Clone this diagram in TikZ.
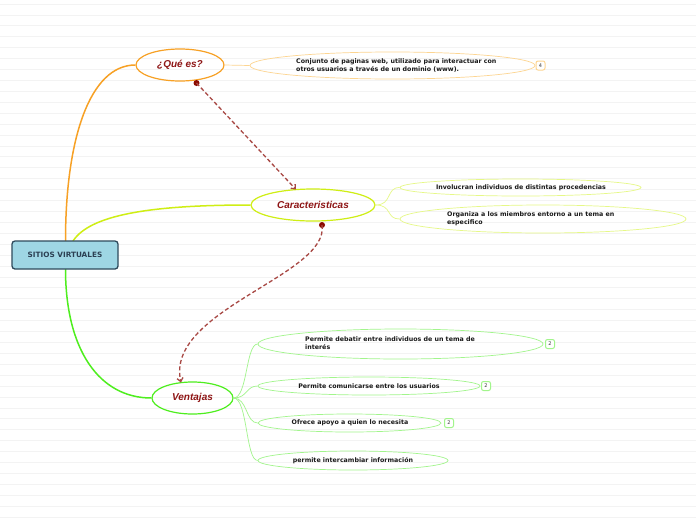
\documentclass[tikz,border=0pt]{standalone}
\usepackage{fontspec}
\setmainfont{DejaVu Sans}
\newfontfamily\leaffont{DejaVu Sans}
\newfontfamily\topicfont{Liberation Sans}
\usetikzlibrary{shapes.geometric,arrows.meta}
\definecolor{orangeM}{HTML}{F7A125}
\definecolor{orangeL}{HTML}{FDD591}
\definecolor{yellowM}{HTML}{CFEE14}
\definecolor{yellowL}{HTML}{E6F887}
\definecolor{greenM}{HTML}{4EEE1E}
\definecolor{greenL}{HTML}{A2F58C}
\definecolor{topictext}{HTML}{8E1515}
\definecolor{rootfill}{HTML}{9ED6E4}
\definecolor{rootdraw}{HTML}{2E4A5C}
\definecolor{roottext}{HTML}{2B3F52}
\definecolor{dashred}{HTML}{A84844}
\definecolor{dotred}{HTML}{8B0A00}
\definecolor{gridline}{HTML}{F3F3F3}
\tikzset{
  topic/.style={ellipse, draw, line width=1.2pt, minimum height=32pt, inner sep=0pt,
    font=\topicfont\bfseries\itshape\fontsize{10}{12}\selectfont, text=topictext},
  rootbox/.style={rounded corners=3pt, draw=rootdraw, fill=rootfill, line width=1.3pt,
    minimum width=106pt, minimum height=28pt, inner sep=0pt,
    font=\leaffont\bfseries\fontsize{7.3}{9}\selectfont, text=roottext},
  leafshape/.style={ellipse, draw, line width=0.7pt, inner sep=0pt},
  leaftext/.style={font=\leaffont\bfseries\fontsize{6.3}{8}\selectfont, align=left,
    inner sep=0pt, text=black!90},
  badge/.style={rounded corners=2pt, draw, line width=1pt, minimum size=9pt,
    inner sep=0pt, fill=white, font=\leaffont\fontsize{5}{5}\selectfont, text=black!80},
  mainlink/.style={line width=1.5pt},
  leaflink/.style={line width=0.7pt},
  dashlink/.style={dashred, line width=1.3pt, dash pattern=on 4pt off 2.5pt,
    -{Straight Barb[length=3.5pt,width=6pt]}},
  dot/.style={circle, fill=dotred, inner sep=0pt, minimum size=6pt}
}
\begin{document}
\begin{tikzpicture}[x=1pt,y=-1pt]
\useasboundingbox (0,0) rectangle (696,520);
\fill[white] (0,0) rectangle (696,520);
\foreach \i in {0,...,47} {
  \draw[gridline, line width=0.7pt] (0,{4+\i*10.915}) -- (696,{4+\i*10.915});
}
% main topics
\node[topic, draw=orangeM, minimum width=88pt] (que) at (180,65) {¿Qué es?};
\node[topic, draw=yellowM, minimum width=124pt] (car) at (313,205) {Caracteristicas};
\node[topic, draw=greenM, minimum width=81pt] (ven) at (192.5,398) {Ventajas};
% root connectors
\coordinate (rtop) at (65.5,241);
\coordinate (rtop2) at (73,241);
\coordinate (rbot) at (65.5,269);
\draw[mainlink, orangeM] (rtop) .. controls +(0,-101) and +(-46,0) .. (que.west);
\draw[mainlink, yellowM] (rtop2) .. controls +(17,-26) and +(-101,0) .. (car.west);
\draw[mainlink, greenM] (rbot) .. controls +(0,81) and +(-52,0) .. (ven.west);
\node[rootbox] (root) at (65,255) {SITIOS VIRTUALES};
% leaves of que
\node[leafshape, draw=orangeL, minimum width=285pt, minimum height=27pt] (l1) at (392.5,65.5) {};
\node[leaftext, anchor=west] (t1) at (296,65.5) {Conjunto de paginas web, utilizado para interactuar con\\otros usuarios a través de un dominio (www).};
\node[badge, draw=orangeL] (b1) at (540.5,65.5) {4};
\draw[leaflink, orangeL] (que.east) -- (l1.west);
% leaves of car
\node[leafshape, draw=yellowL, minimum width=241pt, minimum height=17pt] (l2) at (520.5,187.5) {};
\node[leaftext] (t2) at (521,187.5) {Involucran individuos de distintas procedencias};
\node[leafshape, draw=yellowL, minimum width=286pt, minimum height=28pt] (l3) at (543,219) {};
\node[leaftext, anchor=west] (t3) at (447,219) {Organiza a los miembros entorno a un tema en\\especifico};
\draw[leaflink, yellowL] (car.east) .. controls +(17,0) and +(-14,0) .. (l2.west);
\draw[leaflink, yellowL] (car.east) .. controls +(17,0) and +(-14,0) .. (l3.west);
% leaves of ven
\node[leafshape, draw=greenL, minimum width=285pt, minimum height=30pt] (l4) at (400.5,344) {};
\node[leaftext, anchor=west] (t4) at (305,343.5) {Permite debatir entre individuos de un tema de\\interés};
\node[badge, draw=greenL] (b4) at (550,344) {2};
\node[leafshape, draw=greenL, minimum width=222pt, minimum height=18pt] (l5) at (369,386) {};
\node[leaftext] (t5) at (369,386) {Permite comunicarse entre los usuarios};
\node[badge, draw=greenL] (b5) at (486,386) {2};
\node[leafshape, draw=greenL, minimum width=183pt, minimum height=18pt] (l6) at (349.5,423) {};
\node[leaftext] (t6) at (350,423) {Ofrece apoyo a quien lo necesita};
\node[badge, draw=greenL] (b6) at (449,423) {2};
\node[leafshape, draw=greenL, minimum width=190pt, minimum height=19pt] (l7) at (353,460.5) {};
\node[leaftext] (t7) at (353,460.5) {permite intercambiar información};
\foreach \l in {l4,l5,l6,l7} {
  \draw[leaflink, greenL] (ven.east) .. controls +(14,0) and +(-12,0) .. (\l.west);
}
% dashed relations
\node[dot] (d1) at (196.5,83) {};
\coordinate (a1) at (296,189.5);
\draw[dashlink] (d1.center) -- (a1);
\node[dot] (d2) at (322,225) {};
\coordinate (a2) at (181,382.5);
\draw[dashlink] (d2.center) .. controls (330,275) and (165,310) .. (a2);
\end{tikzpicture}
\end{document}
